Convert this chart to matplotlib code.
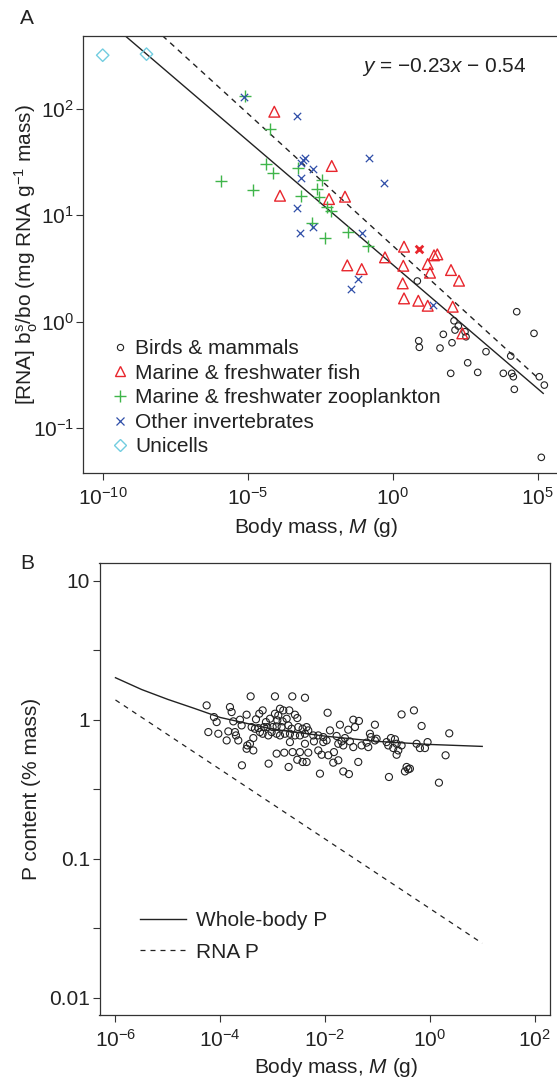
import numpy as np
import matplotlib
matplotlib.use("Agg")
import matplotlib.pyplot as plt
from matplotlib.lines import Line2D
from matplotlib.ticker import FixedLocator, NullLocator, NullFormatter, FixedFormatter

plt.rcParams["font.family"] = ["Liberation Sans", "DejaVu Sans"]
plt.rcParams["mathtext.fontset"] = "custom"
plt.rcParams["mathtext.rm"] = "Liberation Sans"
plt.rcParams["mathtext.it"] = "Liberation Sans:italic"
plt.rcParams["mathtext.default"] = "regular"
plt.rcParams["text.color"] = "#222222"
plt.rcParams["axes.labelcolor"] = "#222222"
plt.rcParams["xtick.color"] = "#333333"
plt.rcParams["ytick.color"] = "#333333"
plt.rcParams["xtick.labelcolor"] = "#222222"
plt.rcParams["ytick.labelcolor"] = "#222222"

# ---- panel A data (log10 body mass in g, log10 RNA) ----
bird_logM = [0.849, 4.276, 2.114, 2.262, 2.148, 2.493, 2.528, 1.745, 4.872, 0.897, 0.918, 2.045, 1.631,
             3.217, 4.069, 2.586, 2.000, 2.931, 3.814, 4.103, 4.159, 4.193, 5.055, 5.228, 5.124]
bird_logR = [0.382, 0.094, 0.009, -0.040, -0.078, -0.094, -0.141, -0.118, -0.109, -0.178, -0.240, -0.197, -0.247,
             -0.281, -0.322, -0.385, -0.484, -0.475, -0.484, -0.484, -0.516, -0.634, -0.516, -0.594, -1.272]

fish_logM = [-4.083, -2.103, -3.886, -2.197, -1.645, -0.266, -1.566, -1.069, 0.390, 0.366, 1.207, 1.424, 1.538,
             1.286, 2.010, 2.286, 0.345, 0.390, 0.883, 1.207, 2.069, 2.400]
fish_logR = [1.970, 1.461, 1.182, 1.151, 1.173, 0.604, 0.529, 0.494, 0.704, 0.525, 0.541, 0.623, 0.632,
             0.460, 0.485, 0.385, 0.360, 0.219, 0.197, 0.150, 0.141, -0.109]
fish_bold_logM = [0.918]
fish_bold_logR = [0.679]

zoo_logM = [-5.093, -4.231, -4.369, -4.138, -5.931, -4.807, -3.276, -2.428, -2.621, -2.531, -3.172, -2.276,
            -2.128, -2.793, -2.334, -1.552, -0.862]
zoo_logR = [2.120, 1.805, 1.479, 1.392, 1.320, 1.235, 1.445, 1.329, 1.242, 1.173, 1.179, 1.079,
            1.041, 0.929, 0.788, 0.844, 0.710]

inv_logM = [-5.117, -3.310, -3.179, -3.093, -3.024, -2.737, -3.162, -3.310, -0.817, -0.289, -3.197, -2.737,
            -1.069, -1.186, -1.428, 1.379]
inv_logR = [2.105, 1.932, 1.493, 1.517, 1.540, 1.430, 1.351, 1.064, 1.539, 1.298, 0.835, 0.891,
            0.835, 0.398, 0.310, 0.157]

uni_logM = [-10.0, -8.49]
uni_logR = [2.50, 2.51]

# fitted lines (end points)
fit_solid_logM = [-9.23, 5.19]
fit_solid_logR = [2.683, -0.672]
fit_dash_logM = [-7.94, 5.055]
fit_dash_logR = [2.683, -0.540]

# ---- panel B data (log10 body mass, log10 P % mass) ----
pb_logM = [-3.420, -2.956, -2.625, -2.383,
           -4.260, -3.815, -3.783, -3.191, -3.255, -3.497, -2.860, -2.797, -2.682, -2.956, -2.892, -2.574, -2.530, -1.951,
           -4.120, -4.069, -3.624, -3.592, -3.751, -3.318, -3.051, -2.733, -2.911, -2.810, -3.128,
           -4.228, -4.037, -3.846, -3.719, -3.401, -3.338, -3.274, -3.166, -3.102, -3.000, -2.924, -2.829, -2.701,
           -2.638, -2.511, -2.352, -2.320, -2.428, -1.906,
           -3.242, -3.191, -3.083, -3.020, -2.924, -2.860, -2.765, -2.670, -2.574, -2.479, -2.383, -2.224, -2.129,
           -2.033, -1.779,
           -3.878, -3.656, -3.700, -3.369, -3.433, -3.484, -2.670, -2.383, -2.212, -2.033, -1.970,
           -3.497, -3.369, -2.924, -2.778, -2.619, -2.479, -2.320, -2.129, -2.065, -1.938, -1.830,
           -2.530, -2.428, -2.352, -1.843, -3.077, -3.586, -2.695, -2.097,
           -1.461, -1.353, -1.716, -1.048, -1.429, -1.557, -0.539, -0.303, -0.157, 0.371,
           -1.620, -1.684, -1.525, -1.747, -1.652, -1.461, -1.302, -1.207, -1.143, -1.124, -1.175, -1.048, -1.016,
           -0.825, -0.793, -0.742, -0.666, -0.634, -0.602, -0.634, -0.698, -0.539, -0.252, -0.189, -0.093, -0.043, 0.301,
           -1.747, -1.366, -1.652, -1.544, -0.780, -0.443, -0.412, -0.475, -0.380, 0.174]
pb_logP = [0.168, 0.168, 0.168, 0.158,
           0.103, 0.091, 0.055, 0.067, 0.043, 0.036, 0.079, 0.067, 0.067, 0.043, 0.031, 0.036, 0.012, 0.050,
           0.019, -0.017, 0.000, -0.041, -0.012, 0.003, 0.007, 0.007, -0.005, -0.012, -0.017,
           -0.089, -0.101, -0.084, -0.089, -0.053, -0.065, -0.060, -0.053, -0.053, -0.053, -0.048, -0.053, -0.041,
           -0.065, -0.053, -0.053, -0.077, -0.065, -0.077,
           -0.089, -0.101, -0.113, -0.089, -0.101, -0.113, -0.101, -0.101, -0.113, -0.113, -0.101, -0.113, -0.113,
           -0.125, -0.117,
           -0.149, -0.149, -0.113, -0.132, -0.173, -0.185, -0.161, -0.173, -0.156, -0.161, -0.149,
           -0.209, -0.221, -0.244, -0.237, -0.233, -0.233, -0.237, -0.221, -0.252, -0.256, -0.233,
           -0.288, -0.304, -0.304, -0.309, -0.316, -0.328, -0.340, -0.388,
           0.000, -0.009, -0.036, -0.036, -0.053, -0.072, 0.038, 0.067, -0.045, -0.098,
           -0.132, -0.156, -0.156, -0.173, -0.185, -0.197, -0.185, -0.165, -0.101, -0.125, -0.197, -0.149, -0.137,
           -0.161, -0.185, -0.132, -0.141, -0.173, -0.221, -0.252, -0.204, -0.185, -0.173, -0.204, -0.204, -0.161, -0.256,
           -0.292, -0.304, -0.372, -0.391, -0.412, -0.340, -0.357, -0.372, -0.352, -0.453]

whole_logM = [-6.0, -5.5, -5.0, -4.5, -4.0, -3.0, -2.0, -1.0, 0.0, 1.0]
whole_logP = [0.302, 0.217, 0.146, 0.082, 0.016, -0.068, -0.118, -0.156, -0.178, -0.192]
rna_logM = [-6.0, 1.0]
rna_logP = [0.142, -1.608]

RED = "#e8262d"
GREEN = "#3fb54a"
BLUE = "#2f4ea8"
CYAN = "#72cde0"
DARK = "#222222"
FS = 15


def p10(v):
    return 10 ** np.asarray(v, dtype=float)


def style_axes(ax):
    for s in ax.spines.values():
        s.set_color("#333333")
        s.set_linewidth(0.9)
    ax.tick_params(which="both", length=5.2, width=0.8, labelsize=FS, direction="out")
    ax.tick_params(axis="x", which="both", pad=5)
    ax.tick_params(axis="y", which="both", pad=1.5)


fig = plt.figure(figsize=(5.57, 10.78), dpi=100)

# ================= panel A =================
axA = fig.add_axes([83.3 / 557, 1 - 472.7 / 1078, (559 - 83.3) / 557, (472.7 - 35.7) / 1078])
axA.set_xscale("log")
axA.set_yscale("log")
axA.set_xlim(10 ** -10.669, 10 ** 5.734)
axA.set_ylim(10 ** -1.416, 10 ** 2.683)

axA.plot(p10(fit_solid_logM), p10(fit_solid_logR), color=DARK, lw=1.0, zorder=2)
axA.plot(p10(fit_dash_logM), p10(fit_dash_logR), color=DARK, lw=1.0, ls=(0, (4, 3.5)), zorder=2)

axA.scatter(p10(bird_logM), p10(bird_logR), s=22, facecolors="none", edgecolors=DARK, linewidths=0.8, zorder=3)
axA.scatter(p10(fish_logM), p10(fish_logR), s=60, marker="^", facecolors="none", edgecolors=RED, linewidths=1.0, zorder=3)
axA.scatter(p10(fish_bold_logM), p10(fish_bold_logR), s=30, marker="x", color=RED, linewidths=2.0, zorder=3)
axA.scatter(p10(zoo_logM), p10(zoo_logR), s=70, marker="+", color=GREEN, linewidths=1.0, zorder=3)
axA.scatter(p10(inv_logM), p10(inv_logR), s=28, marker="x", color=BLUE, linewidths=0.9, zorder=3)
axA.scatter(p10(uni_logM), p10(uni_logR), s=40, marker="D", facecolors="none", edgecolors=CYAN, linewidths=1.0, zorder=3)

axA.xaxis.set_major_locator(FixedLocator([1e-10, 1e-5, 1, 1e5]))
axA.xaxis.set_minor_locator(NullLocator())
axA.yaxis.set_major_locator(FixedLocator([0.1, 1, 10, 100]))
axA.yaxis.set_minor_locator(NullLocator())
style_axes(axA)

axA.set_xlabel(r"Body mass, $\mathit{M}$ (g)", fontsize=FS)
axA.xaxis.set_label_coords(0.489, -0.099)
axA.set_ylabel(r"[RNA] b$_\mathregular{o}^\mathregular{s}$/bo (mg RNA g$^{-1}$ mass)", fontsize=FS)
axA.yaxis.set_label_coords(-0.091, 0.5)

handlesA = [
    Line2D([], [], ls="none", marker="o", ms=4.5, mfc="none", mec=DARK, mew=0.8),
    Line2D([], [], ls="none", marker="^", ms=7.5, mfc="none", mec=RED, mew=1.0),
    Line2D([], [], ls="none", marker="+", ms=8.5, color=GREEN, mew=1.0),
    Line2D([], [], ls="none", marker="x", ms=5.5, color=BLUE, mew=0.9),
    Line2D([], [], ls="none", marker="D", ms=6, mfc="none", mec=CYAN, mew=1.0),
]
labelsA = ["Birds & mammals", "Marine & freshwater fish", "Marine & freshwater zooplankton",
           "Other invertebrates", "Unicells"]
axA.legend(handlesA, labelsA, loc="upper left", bbox_to_anchor=(0.0597, 0.306), frameon=False,
           fontsize=FS, handlelength=0.8, handletextpad=0.32, labelspacing=0.27,
           borderpad=0, borderaxespad=0)

fig.text(526 / 557, 1 - 67 / 1078, "$\\mathit{y}$ = \u22120.23$\\mathit{x}$ \u2212 0.54",
         ha="right", va="center", fontsize=FS)
fig.text(27 / 557, 1 - 18 / 1078, "A", ha="center", va="center", fontsize=FS)

# ================= panel B =================
axB = fig.add_axes([99.5 / 557, 1 - 1015 / 1078, 450.5 / 557, 451.7 / 1078])
axB.set_xscale("log")
axB.set_yscale("log")
axB.set_xlim(10 ** -6.305, 10 ** 2.294)
axB.set_ylim(10 ** -2.124, 10 ** 1.125)

axB.plot(p10(whole_logM), p10(whole_logP), color=DARK, lw=1.0, zorder=2, label="Whole-body P")
axB.plot(p10(rna_logM), p10(rna_logP), color=DARK, lw=0.9, ls=(0, (4, 4)), zorder=2, label="RNA P")
axB.scatter(p10(pb_logM), p10(pb_logP), s=26, facecolors="none", edgecolors=DARK, linewidths=0.8, zorder=3)

axB.xaxis.set_major_locator(FixedLocator([1e-6, 1e-4, 1e-2, 1, 1e2]))
axB.xaxis.set_minor_locator(NullLocator())
axB.yaxis.set_major_locator(FixedLocator([0.01, 0.1, 1, 10]))
axB.yaxis.set_major_formatter(FixedFormatter(["0.01", "0.1", "1", "10"]))
axB.yaxis.set_minor_locator(FixedLocator([10 ** -1.5, 10 ** -0.5, 10 ** 0.5]))
axB.yaxis.set_minor_formatter(NullFormatter())
style_axes(axB)

axB.set_xlabel(r"Body mass, $\mathit{M}$ (g)", fontsize=FS)
axB.xaxis.set_label_coords(0.525, -0.091)
axB.set_ylabel("P content (% mass)", fontsize=FS)
axB.yaxis.set_label_coords(-0.130, 0.5)

axB.legend(loc="upper left", bbox_to_anchor=(0.089, 0.230), frameon=False, fontsize=FS,
           handlelength=2.25, handletextpad=0.48, labelspacing=0.6, borderpad=0, borderaxespad=0)

fig.text(27 / 557, 1 - 563 / 1078, "B", ha="center", va="center", fontsize=FS)

fig.savefig("out.png", dpi=100)
